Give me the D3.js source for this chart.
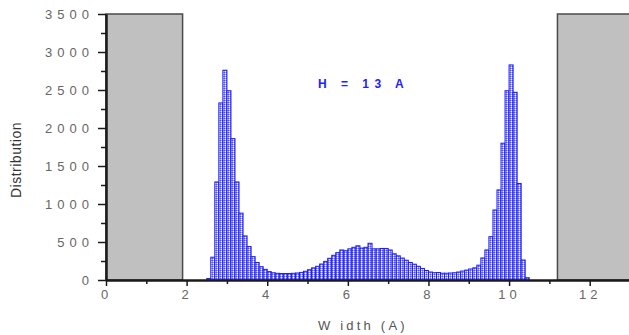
<!DOCTYPE html>
<html>
<head>
<meta charset="utf-8">
<script src="https://cdn.jsdelivr.net/npm/d3@7"></script>
<style>
  body { margin: 0; background: #fff; }
  svg { display: block; font-family: Arial, "Liberation Sans", sans-serif; }
</style>
</head>
<body>
<svg id="chart" width="629" height="335"></svg>
<script>
// Histogram of pore widths (bin left edges, in A) and counts per bin
const binStart = [
  2.5, 2.6, 2.7, 2.8, 2.9, 3.0, 3.1, 3.2, 3.3, 3.4,
  3.5, 3.6, 3.7, 3.8, 3.9, 4.0, 4.1, 4.2, 4.3, 4.4,
  4.5, 4.6, 4.7, 4.8, 4.9, 5.0, 5.1, 5.2, 5.3, 5.4,
  5.5, 5.6, 5.7, 5.8, 5.9, 6.0, 6.1, 6.2, 6.3, 6.4,
  6.5, 6.6, 6.7, 6.8, 6.9, 7.0, 7.1, 7.2, 7.3, 7.4,
  7.5, 7.6, 7.7, 7.8, 7.9, 8.0, 8.1, 8.2, 8.3, 8.4,
  8.5, 8.6, 8.7, 8.8, 8.9, 9.0, 9.1, 9.2, 9.3, 9.4,
  9.5, 9.6, 9.7, 9.8, 9.9, 10.0, 10.1, 10.2, 10.3, 10.4
];
const counts = [
  20, 300, 1290, 2330, 2760, 2490, 1860, 1290, 880, 580,
  440, 307, 230, 175, 140, 110, 95, 88, 85, 85,
  85, 88, 92, 100, 115, 135, 160, 180, 210, 245,
  285, 325, 360, 395, 385, 410, 430, 450, 420, 430,
  483, 410, 410, 415, 415, 395, 345, 318, 288, 260,
  230, 208, 180, 152, 125, 105, 96, 98, 89, 89,
  92, 95, 105, 118, 130, 145, 160, 195, 290, 395,
  570, 921, 1185, 1800, 2490, 2830, 2470, 1270, 263, 30
];
const binWidth = 0.1;

// Excluded width ranges drawn as grey blocks
const bandFrom = [0, 11.2];
const bandTo   = [1.9, 13];
const bandTop  = 3500;

const xTicks = [0, 2, 4, 6, 8, 10, 12];
const xMinor = [1, 3, 5, 7, 9, 11];
const yTicks = [0, 500, 1000, 1500, 2000, 2500, 3000, 3500];
const yMinor = [250, 750, 1250, 1750, 2250, 2750, 3250];

const svg = d3.select("#chart");
const x = d3.scaleLinear().domain([0, 13]).range([106, 630]);
const y = d3.scaleLinear().domain([0, 3500]).range([280, 14]);

// Fine grid fill used inside the histogram bars
const defs = svg.append("defs");
const pat = defs.append("pattern")
  .attr("id", "hatch").attr("patternUnits", "userSpaceOnUse")
  .attr("width", 2).attr("height", 2);
pat.append("rect").attr("width", 2).attr("height", 2).attr("fill", "#f4f4ff");
pat.append("rect").attr("width", 2).attr("height", 1).attr("fill", "#9a9aff");
pat.append("rect").attr("width", 1).attr("height", 2).attr("fill", "#9a9aff");
pat.append("rect").attr("width", 1).attr("height", 1).attr("fill", "#5050ff");

// Grey bands
svg.append("g").selectAll("rect")
  .data(bandFrom.map((f, i) => ({ from: f, to: bandTo[i] })))
  .join("rect")
  .attr("x", d => x(d.from))
  .attr("y", y(bandTop))
  .attr("width", d => x(d.to) - x(d.from))
  .attr("height", y(0) - y(bandTop))
  .attr("fill", "#c0c0c0")
  .attr("stroke", "#4a4a4a")
  .attr("stroke-width", 1.5);

// Histogram bars
svg.append("g").selectAll("rect")
  .data(binStart.map((s, i) => ({ s, v: counts[i] })))
  .join("rect")
  .attr("x", d => x(d.s))
  .attr("y", d => y(d.v))
  .attr("width", d => x(d.s + binWidth) - x(d.s))
  .attr("height", d => y(0) - y(d.v))
  .attr("fill", "url(#hatch)")
  .attr("stroke", "#1a1aff")
  .attr("stroke-width", 1);

// Axes
const axisColor = "#1a1a1a";
const gy = svg.append("g").attr("transform", `translate(${x(0)},0)`)
  .call(d3.axisLeft(y).tickValues(yTicks).tickFormat(d3.format("d"))
    .tickSize(8).tickPadding(4).tickSizeOuter(0));
const gyMinor = svg.append("g").attr("transform", `translate(${x(0)},0)`)
  .call(d3.axisLeft(y).tickValues(yMinor).tickSize(5).tickFormat("").tickSizeOuter(0));
const gx = svg.append("g").attr("transform", `translate(0,${y(0)})`)
  .call(d3.axisBottom(x).tickValues(xTicks).tickFormat(d3.format("d"))
    .tickSize(6).tickPadding(4).tickSizeOuter(0));
const gxMinor = svg.append("g").attr("transform", `translate(0,${y(0)})`)
  .call(d3.axisBottom(x).tickValues(xMinor).tickSize(4).tickFormat("").tickSizeOuter(0));

[gy, gyMinor, gx, gxMinor].forEach(g => {
  g.select(".domain").attr("stroke", axisColor).attr("stroke-width", 2);
  g.selectAll(".tick line").attr("stroke", axisColor).attr("stroke-width", 1.5);
});
[gy, gx].forEach(g => {
  g.selectAll(".tick text")
    .attr("fill", "#666")
    .style("font-size", "13px")
    .style("letter-spacing", "5px")
    .style("font-family", "Arial, 'Liberation Sans', sans-serif");
});
gx.selectAll(".tick text").style("letter-spacing", "4px");

// Axis titles
svg.append("text")
  .attr("transform", "translate(21,160) rotate(-90)")
  .attr("text-anchor", "middle")
  .attr("fill", "#333")
  .style("font-size", "14px")
  .style("letter-spacing", "0.5px")
  .text("Distribution");

svg.append("text")
  .attr("x", 318).attr("y", 330)
  .attr("fill", "#555")
  .style("font-size", "13px")
  .style("letter-spacing", "3.2px")
  .text("W idth (A)");

// Annotation
svg.append("text")
  .attr("x", 318).attr("y", 88)
  .attr("fill", "#2222ff")
  .style("font-size", "12px")
  .style("font-weight", "bold")
  .style("letter-spacing", "5.5px")
  .text("H = 13 A");
</script>
</body>
</html>
